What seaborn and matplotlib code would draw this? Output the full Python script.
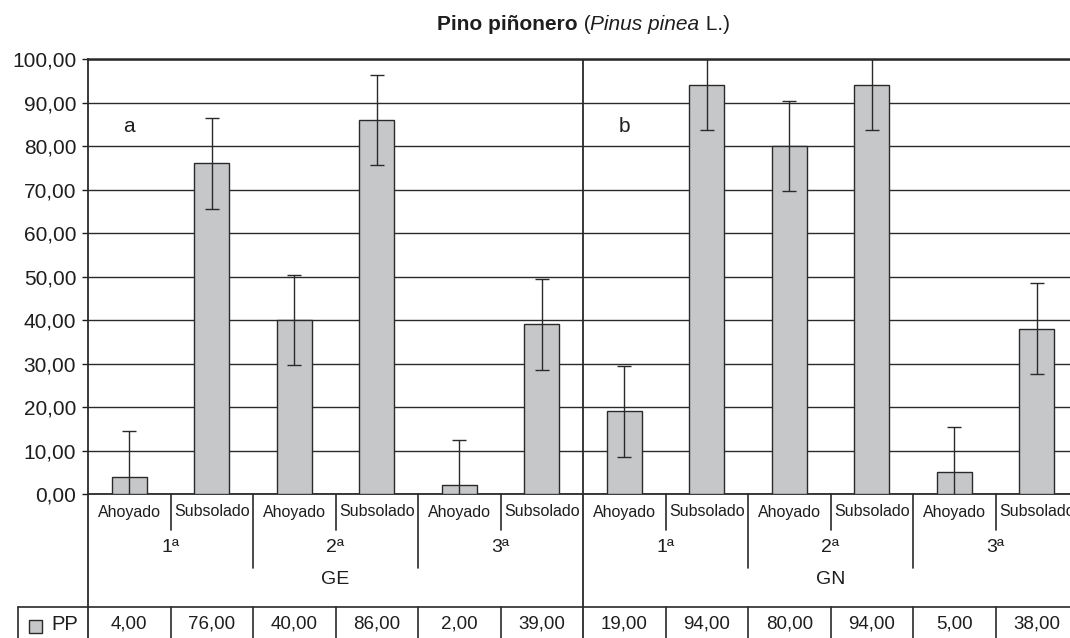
import numpy as np
import pandas as pd
import matplotlib
matplotlib.use("Agg")
import matplotlib.pyplot as plt
import matplotlib.transforms as mtransforms
from matplotlib.lines import Line2D
from matplotlib.patches import Rectangle
import seaborn as sns

# ---- data -------------------------------------------------------------
sites = ["GE"] * 6 + ["GN"] * 6
campaigns = ["1ª", "1ª", "2ª", "2ª", "3ª", "3ª"] * 2
methods = ["Ahoyado", "Subsolado"] * 6
pp = [4, 76, 40, 86, 2, 39, 19, 94, 80, 94, 5, 38]
pp_err = [10.4] * 12
y_ticks = [0, 10, 20, 30, 40, 50, 60, 70, 80, 90, 100]
panel_letters = ["a", "b"]
series_name = "PP"

# ---- style ------------------------------------------------------------
sns.set_style("white")
plt.rcParams["font.family"] = ["Liberation Sans", "DejaVu Sans"]
INK = "#1e1e1e"
LINE = "#2a2a2a"
BAR = "#c6c7c9"

W, H = 1070, 638
fig = plt.figure(figsize=(W / 100, H / 100), dpi=100)
ax = fig.add_axes([88 / W, 1 - 494 / H, 990 / W, (494 - 59) / H])


def fy(py):
    return 1 - py / H


def fmt(v):
    return f"{v:.2f}".replace(".", ",")


df = pd.DataFrame({
    "slot": [f"{s}|{c}|{m}" for s, c, m in zip(sites, campaigns, methods)],
    "PP": pp,
})

sns.barplot(data=df, x="slot", y="PP", order=list(df["slot"]), color=BAR,
            saturation=1, edgecolor=LINE, linewidth=1.0, width=0.42,
            errorbar=None, ax=ax, zorder=3)
ax.errorbar(np.arange(len(pp)), pp, yerr=pp_err, fmt="none", ecolor=LINE,
            elinewidth=1.0, capsize=4.7, capthick=1.0, zorder=4)

ax.set_xlim(-0.5, len(pp) - 0.5)
ax.set_ylim(0, 100)
ax.set_xticks([])
ax.set_yticks(y_ticks)
ax.set_yticklabels([fmt(v) for v in y_ticks])
ax.set_xlabel("")
ax.set_ylabel("")
ax.tick_params(axis="y", direction="out", length=4, width=1.0, pad=4.5,
               labelsize=15, colors=INK, left=True)

ax.set_axisbelow(True)
ax.yaxis.grid(True, color=LINE, lw=1.0)
ax.xaxis.grid(False)
ax.spines["right"].set_visible(False)
ax.spines["left"].set_color(LINE)
ax.spines["left"].set_linewidth(1.3)
ax.spines["bottom"].set_color(LINE)
ax.spines["bottom"].set_linewidth(1.3)
ax.spines["top"].set_color(LINE)
ax.spines["top"].set_linewidth(1.8)

# divider between the two sites
n_half = len(pp) // 2
ax.axvline(n_half - 0.5, color=LINE, lw=1.3, zorder=2)

# panel letters
for i, letter in enumerate(panel_letters):
    ax.text(i * n_half, 84.5, letter, fontsize=15, color=INK,
            ha="center", va="center")

# ---- category axis and data table ---------------------------------------
trans = mtransforms.blended_transform_factory(ax.transData, fig.transFigure)


def vline(x, y0, y1, tr=trans, lw=1.2):
    fig.add_artist(Line2D([x, x], [fy(y0), fy(y1)], transform=tr,
                          color=LINE, lw=lw, clip_on=False))


vline(-0.5, 494, H + 2, lw=1.3)
vline(n_half - 0.5, 494, H + 2, lw=1.3)
for k in range(len(pp) - 1):
    b = k + 0.5
    if b == n_half - 0.5:
        continue
    if k % 2 == 0:
        vline(b, 494, 530)
    else:
        vline(b, 494, 568)
    vline(b, 607, H + 2)

for i, m in enumerate(methods):
    fig.text(i, fy(512), m, transform=trans, fontsize=11.5, color=INK,
             ha="center", va="center")

for j in range(0, len(pp), 2):
    fig.text(j + 0.5, fy(548), campaigns[j], transform=trans, fontsize=14,
             color=INK, ha="center", va="center")

for j, s in enumerate(["GE", "GN"]):
    fig.text(j * n_half + (n_half - 1) / 2, fy(580), s, transform=trans,
             fontsize=14, color=INK, ha="center", va="center")

# table row
fig.add_artist(Line2D([18 / W, 1.0], [fy(607), fy(607)],
                      transform=fig.transFigure, color=LINE, lw=1.2))
fig.add_artist(Line2D([18 / W, 18 / W], [fy(607), 0],
                      transform=fig.transFigure, color=LINE, lw=1.2))
fig.add_artist(Rectangle((29 / W, fy(633)), 13 / W, 13 / H,
                         transform=fig.transFigure, facecolor=BAR,
                         edgecolor=LINE, lw=1.0))
fig.text(51 / W, fy(624), series_name, fontsize=14.5, color=INK,
         ha="left", va="center")
for i, v in enumerate(pp):
    fig.text(i, fy(624), fmt(v), transform=trans, fontsize=13.5, color=INK,
             ha="center", va="center")

# ---- title: bold common name, italic binomial --------------------------
TITLE_SIZE = 15
prev = fig.text(437 / W, fy(34), "Pino piñonero", fontsize=TITLE_SIZE,
                fontweight="bold", color=INK, ha="left", va="bottom")
for txt, style in [(" (", "normal"), ("Pinus pinea", "italic"), (" L.)", "normal")]:
    prev = ax.annotate(txt, xy=(1, 0), xycoords=prev, fontsize=TITLE_SIZE,
                       fontstyle=style, color=INK, ha="left", va="bottom",
                       annotation_clip=False)

fig.savefig("out.png", dpi=100)
